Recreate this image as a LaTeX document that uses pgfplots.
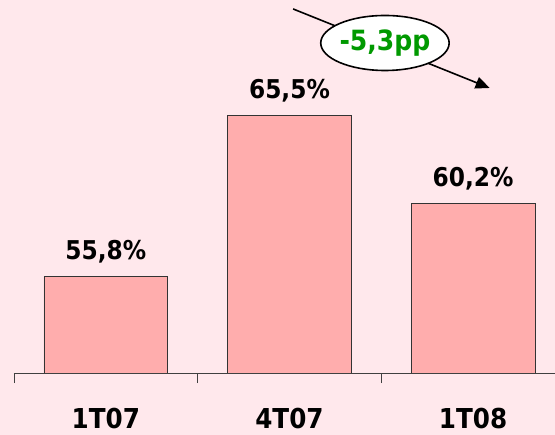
\documentclass[border=0pt]{standalone}
\usepackage{pgfplots}
\pgfplotsset{compat=1.18}
\usepackage{fontspec}
\setmainfont{DejaVu Sans Condensed}
\usetikzlibrary{arrows.meta,shapes.geometric,backgrounds}
\definecolor{bgpink}{RGB}{255,232,236}
\definecolor{barpink}{RGB}{255,173,173}
\definecolor{ggreen}{RGB}{0,153,0}
\begin{document}
\begin{tikzpicture}
\begin{axis}[
  scale only axis,
  width=541bp, height=373bp,
  xmin=-0.5, xmax=2.446,
  ymin=50, ymax=72.47,
  axis x line*=bottom,
  axis y line=none,
  axis line style={draw=black!75, line width=0.8bp},
  xtick={0,1,2},
  xticklabels={1T07,4T07,1T08},
  major tick length=0pt,
  minor xtick={-0.5,0.5,1.5},
  minor tick length=10bp,
  tick align=outside,
  minor tick style={draw=black!75, line width=0.8bp},
  xticklabel style={font=\fontsize{27.5}{32}\selectfont\bfseries, yshift=-32bp},
  ybar,
  bar width=0.674,
  nodes near coords={\pgfmathprintnumber[fixed,precision=1,fixed zerofill,use comma,assume math mode=true]{\pgfplotspointmeta}\%},
  every node near coord/.append style={font=\fontsize{26}{30}\selectfont\bfseries, yshift=10bp, text=black},
]
\addplot[fill=barpink, draw=black!80, line width=0.7bp] coordinates {(0,55.8) (1,65.5) (2,60.2)};
\draw[-{Triangle[length=14bp,width=12bp]}, line width=1.6bp] (axis cs:1.02,71.93) -- (axis cs:2.09,67.17);
\node[ellipse, draw, fill=white, line width=1.6bp, minimum width=124bp, minimum height=55bp, inner sep=0pt, text=ggreen, font=\fontsize{28}{30}\selectfont\bfseries] at (axis cs:1.52,69.88) {-5,3pp};
\end{axis}
\pgfresetboundingbox
\useasboundingbox ([xshift=-14bp,yshift=-62bp]current axis.south west) rectangle (current axis.north east);
\begin{scope}[on background layer]
\fill[bgpink] ([xshift=-14bp,yshift=-62bp]current axis.south west) rectangle (current axis.north east);
\end{scope}
\end{tikzpicture}
\end{document}
